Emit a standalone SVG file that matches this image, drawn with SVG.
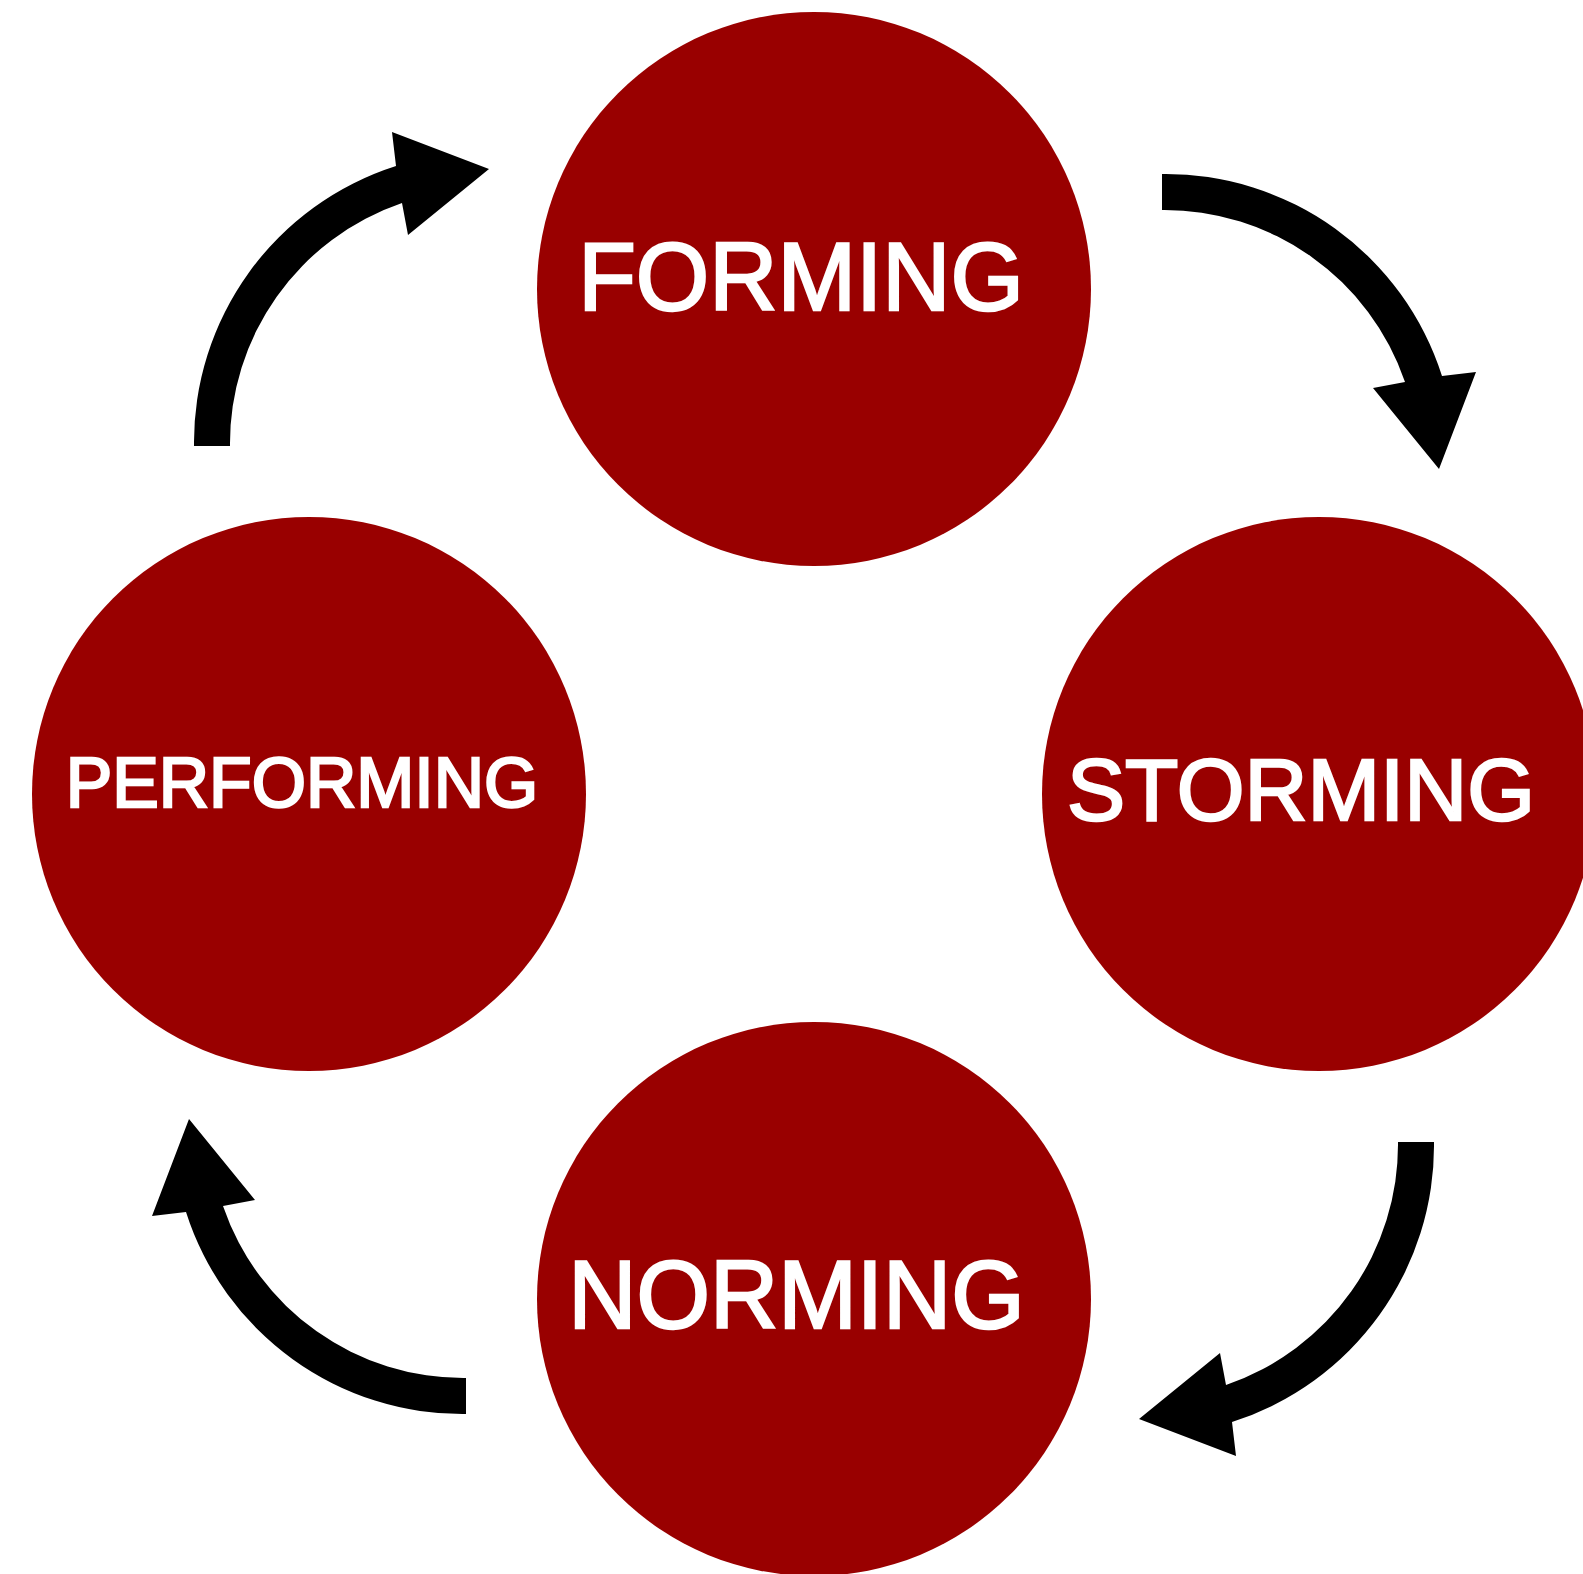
<svg xmlns="http://www.w3.org/2000/svg" width="1583" height="1574" viewBox="0 0 1583 1574">
  <style>
    .stage { fill: #990000; }
    .label { fill: #ffffff; stroke: #ffffff; stroke-width: 2.4; stroke-linejoin: miter; font-family: "Liberation Sans", Arial, sans-serif; font-weight: normal; text-anchor: middle; }
    .arrow { fill: #000000; }
  </style>
  <defs>
    <path id="curvedArrow" class="arrow" d="M194,446 A290,290 0 0 1 396,166 L392,132 L489,169 L408,235 L402,203 A254,254 0 0 0 230,446 Z"/>
  </defs>
  <rect x="0" y="0" width="1583" height="1574" fill="#ffffff"/>

  <g id="forming">
    <circle class="stage" cx="814" cy="289" r="277"/>
    <text class="label" x="801" y="309.8" font-size="95.8" textLength="445.7" lengthAdjust="spacingAndGlyphs">FORMING</text>
  </g>
  <g id="storming">
    <circle class="stage" cx="1319" cy="794" r="277"/>
    <text class="label" x="1301" y="819.8" font-size="86.5" textLength="468" lengthAdjust="spacingAndGlyphs">STORMING</text>
  </g>
  <g id="norming">
    <circle class="stage" cx="814" cy="1299" r="277"/>
    <text class="label" x="796.5" y="1327.8" font-size="95.8" textLength="456.5" lengthAdjust="spacingAndGlyphs">NORMING</text>
  </g>
  <g id="performing">
    <circle class="stage" cx="309" cy="794" r="277"/>
    <text class="label" x="302" y="806.8" font-size="69.7" textLength="472.7" lengthAdjust="spacingAndGlyphs">PERFORMING</text>
  </g>

  <g id="connectors">
    <use href="#curvedArrow"/>
    <use href="#curvedArrow" transform="rotate(90 814 794)"/>
    <use href="#curvedArrow" transform="rotate(180 814 794)"/>
    <use href="#curvedArrow" transform="rotate(270 814 794)"/>
  </g>
</svg>
